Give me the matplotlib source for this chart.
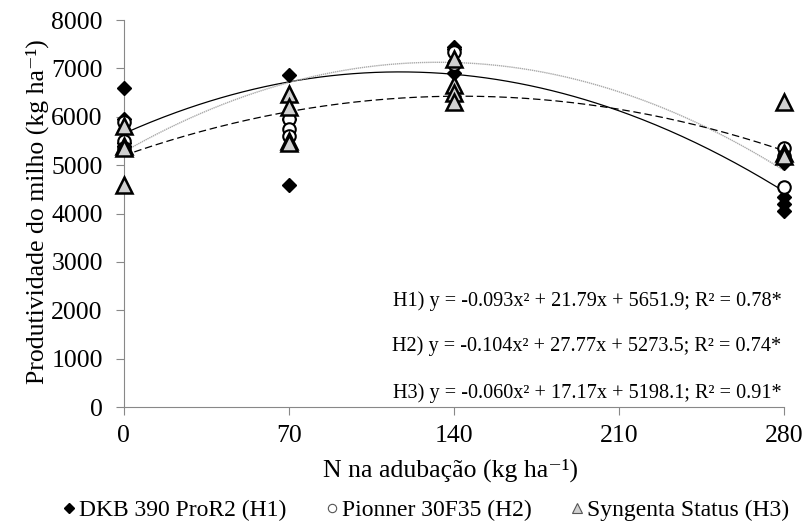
import numpy as np
import matplotlib
matplotlib.use("Agg")
import matplotlib.pyplot as plt

plt.rcParams['font.family'] = ['Liberation Serif', 'DejaVu Serif']

# dose de N (kg/ha)
h1_x = [0, 0, 0, 0, 70, 70, 70, 140, 140, 140, 280, 280, 280, 280]
h1_y = [6600, 5950, 5450, 5400, 6870, 5950, 4600, 7450, 7400, 6900, 5050, 4350, 4200, 4050]

h2_x = [0, 0, 0, 70, 70, 70, 140, 140, 280, 280, 280]
h2_y = [5900, 5500, 5350, 5950, 5750, 5600, 7350, 7100, 5350, 5200, 4550]

h3_x = [0, 0, 0, 0, 70, 70, 70, 70, 140, 140, 140, 140, 280, 280, 280]
h3_y = [5800, 5400, 5350, 4600, 6480, 6200, 5500, 5450, 7200, 6650, 6500, 6300, 6300, 5250, 5200]

# coeficientes das regressoes -> y = a x^2 + b x + c
h1_coef = [-0.093, 21.79, 5651.9]
h2_coef = [-0.104, 27.77, 5273.5]
h3_coef = [-0.060, 17.17, 5198.1]

equations = [
    "H1) y = -0.093x\u00b2 + 21.79x + 5651.9; R\u00b2 = 0.78*",
    "H2) y = -0.104x\u00b2 + 27.77x + 5273.5; R\u00b2 = 0.74*",
    "H3) y = -0.060x\u00b2 + 17.17x + 5198.1; R\u00b2 = 0.91*",
]
eq_y = [2200, 1250, 290]
labels = ["DKB 390 ProR2 (H1)", "Pionner 30F35 (H2)", "Syngenta Status (H3)"]

fig = plt.figure(figsize=(8.03, 5.28), dpi=100)
ax = fig.add_axes([0.154, 0.229, 0.822, 0.733])

xx = np.linspace(0, 280, 300)
ax.plot(xx, np.polyval(h1_coef, xx), color='black', lw=0.9, zorder=2)
ax.plot(xx, np.polyval(h2_coef, xx), color='#aaaaaa', lw=1.0, ls=(0, (1, 0.5)), zorder=2)
ax.plot(xx, np.polyval(h3_coef, xx), color='black', lw=0.9, ls=(0, (6, 3)), zorder=2)

ax.plot(h1_x, h1_y, 'D', ms=7, color='black', ls='none', zorder=3, clip_on=False)
ax.plot(h2_x, h2_y, 'o', ms=9, mfc='white', mec='black', mew=1.5, ls='none', zorder=4, clip_on=False)
ax.plot(h3_x, h3_y, '^', ms=11, mfc='#d0d0d0', mec='black', mew=1.8, ls='none', zorder=5, clip_on=False)

for yy, eq in zip(eq_y, equations):
    ax.text(279, yy, eq, ha='right', va='center', fontsize=14.6)

ax.set_xlim(0, 280)
ax.set_ylim(0, 8000)
ax.set_xticks([0, 70, 140, 210, 280])
ax.set_yticks(range(0, 8001, 1000))
ax.spines['top'].set_visible(False)
ax.spines['right'].set_visible(False)
for s in ['left', 'bottom']:
    ax.spines[s].set_color('#888888')
ax.tick_params(direction='out', length=6, color='#888888', labelsize=18.5)
ax.tick_params(axis='y', pad=9)
ax.tick_params(axis='x', pad=7)

fig.text(451 / 803, 1 - 470 / 528, "N na adubação (kg ha\u207b\u00b9)", ha='center', va='center', fontsize=18.5)
fig.text(37 / 803, 1 - 212 / 528, "Produtividade do milho (kg ha\u207b\u00b9)", ha='center', va='center',
         rotation=90, fontsize=18.5)

handles = [
    plt.Line2D([], [], marker='D', ms=5, color='black', ls='none'),
    plt.Line2D([], [], marker='o', ms=6, mfc='white', mec='#555555', mew=0.8, ls='none'),
    plt.Line2D([], [], marker='^', ms=7, mfc='#d0d0d0', mec='#555555', mew=0.8, ls='none'),
]
fig.legend(handles, labels, loc='center', bbox_to_anchor=(0.53, 0.034), ncol=3, frameon=False,
           fontsize=17, handlelength=0.6, handletextpad=0.15, columnspacing=1.6)

fig.savefig("out.png", dpi=100)
